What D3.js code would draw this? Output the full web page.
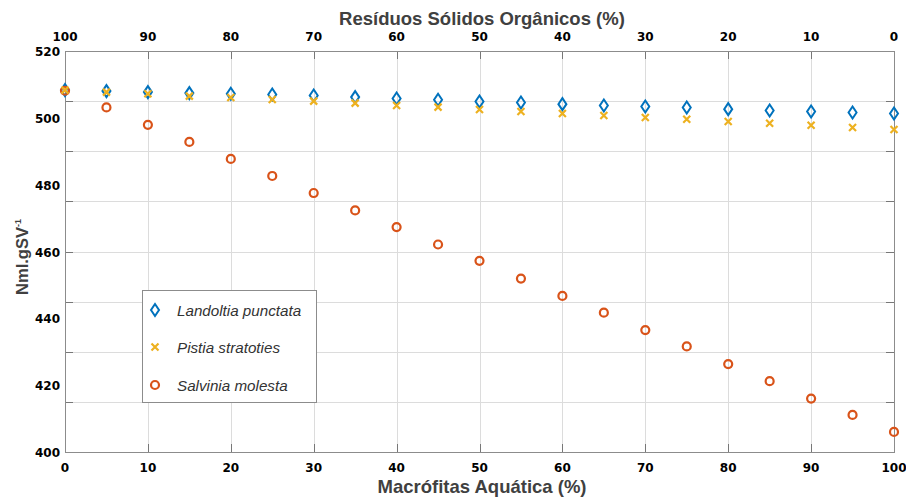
<!DOCTYPE html>
<html>
<head>
<meta charset="utf-8">
<script src="https://cdn.jsdelivr.net/npm/d3@7"></script>
<style>
  body { margin: 0; background: #fff; }
  svg { display: block; }
</style>
</head>
<body>
<script>
// dados
var macrofitas = [0, 5, 10, 15, 20, 25, 30, 35, 40, 45, 50, 55, 60, 65, 70, 75, 80, 85, 90, 95, 100];
var landoltia = [508.3, 508.0, 507.7, 507.4, 507.2, 507.0, 506.7, 506.2, 505.8, 505.4, 504.9,
                 504.6, 504.1, 503.7, 503.4, 503.1, 502.6, 502.2, 501.9, 501.6, 501.3];
var pistia = [508.3, 507.7, 507.2, 506.5, 506.1, 505.5, 505.0, 504.4, 503.7, 503.2, 502.5,
              501.9, 501.3, 500.7, 500.1, 499.6, 498.9, 498.4, 497.8, 497.1, 496.5];
var salvinia = [508.1, 503.1, 497.9, 492.8, 487.7, 482.6, 477.5, 472.3, 467.3, 462.1, 457.2,
                451.9, 446.7, 441.7, 436.5, 431.6, 426.3, 421.2, 416.0, 411.1, 406.0];
var yTicks = [400, 420, 440, 460, 480, 500, 520];
var xTicks = [0, 10, 20, 30, 40, 50, 60, 70, 80, 90, 100];
var yGrid = [415, 430, 445, 460, 475, 490, 505];
var legendNames = ["Landoltia punctata", "Pistia stratoties", "Salvinia molesta"];

var W = 906, H = 497,
    pLeft = 65, pRight = 894, pTop = 51, pBottom = 452;

var svg = d3.select("body").append("svg").attr("width", W).attr("height", H);

var x = d3.scaleLinear().domain([0, 100]).range([pLeft, pRight]);
var xTop = d3.scaleLinear().domain([100, 0]).range([pLeft, pRight]);
var y = d3.scaleLinear().domain([400, 520]).range([pBottom, pTop]);

// grade
var grid = svg.append("g").attr("stroke", "#dcdcdc").attr("stroke-width", 1);
xTicks.slice(1, -1).forEach(function(t){
  grid.append("line").attr("x1", Math.round(x(t)) + 0.5).attr("x2", Math.round(x(t)) + 0.5)
      .attr("y1", pTop).attr("y2", pBottom);
});
yGrid.forEach(function(t){
  grid.append("line").attr("y1", Math.round(y(t)) + 0.5).attr("y2", Math.round(y(t)) + 0.5)
      .attr("x1", pLeft).attr("x2", pRight);
});

// marcas pequenas
var tk = svg.append("g").attr("stroke", "#777").attr("stroke-width", 1);
xTicks.slice(1, -1).forEach(function(t){
  var px = Math.round(x(t)) + 0.5;
  tk.append("line").attr("x1", px).attr("x2", px).attr("y1", pBottom).attr("y2", pBottom - 8);
  tk.append("line").attr("x1", px).attr("x2", px).attr("y1", pTop).attr("y2", pTop + 8);
});
yGrid.forEach(function(t){
  var py = Math.round(y(t)) + 0.5;
  tk.append("line").attr("y1", py).attr("y2", py).attr("x1", pLeft).attr("x2", pLeft + 8);
  tk.append("line").attr("y1", py).attr("y2", py).attr("x1", pRight).attr("x2", pRight - 8);
});

// caixa dos eixos
svg.append("rect").attr("x", pLeft + 0.5).attr("y", pTop + 0.5)
   .attr("width", pRight - pLeft).attr("height", pBottom - pTop)
   .attr("fill", "none").attr("stroke", "#8c8c8c").attr("stroke-width", 1);

var tickFont = "'DejaVu Sans', sans-serif";

svg.append("g").selectAll("text").data(xTicks).join("text")
   .attr("x", function(d){ return x(d); }).attr("y", 472)
   .attr("text-anchor", "middle").attr("font-family", tickFont)
   .attr("font-weight", "bold").attr("font-size", 12).attr("fill", "#000")
   .text(function(d){ return d; });

svg.append("g").selectAll("text").data(xTicks).join("text")
   .attr("x", function(d){ return xTop(d); }).attr("y", 41)
   .attr("text-anchor", "middle").attr("font-family", tickFont)
   .attr("font-weight", "bold").attr("font-size", 12).attr("fill", "#000")
   .text(function(d){ return d; });

svg.append("g").selectAll("text").data(yTicks).join("text")
   .attr("x", 60).attr("y", function(d){ return y(d) + 5; })
   .attr("text-anchor", "end").attr("font-family", tickFont)
   .attr("font-weight", "bold").attr("font-size", 12).attr("fill", "#000")
   .text(function(d){ return d; });

// títulos
var titleFont = "'Liberation Sans', Arial, sans-serif";
svg.append("text").attr("x", 482).attr("y", 25).attr("text-anchor", "middle")
   .attr("font-family", titleFont).attr("font-weight", "bold").attr("font-size", 18.5)
   .attr("fill", "#404040").text("Resíduos Sólidos Orgânicos (%)");
svg.append("text").attr("x", 482).attr("y", 493).attr("text-anchor", "middle")
   .attr("font-family", titleFont).attr("font-weight", "bold").attr("font-size", 18.5)
   .attr("fill", "#404040").text("Macrófitas Aquática (%)");
var yl = svg.append("text").attr("transform", "translate(28,257) rotate(-90)")
   .attr("text-anchor", "middle").attr("font-family", titleFont)
   .attr("font-weight", "bold").attr("font-size", 16.5).attr("fill", "#404040");
yl.append("tspan").text("Nml.gSV");
yl.append("tspan").attr("font-size", 9).attr("dy", -7).text("-1");

// marcadores
var blue = "#0072BD", orange = "#D95319", yellow = "#EDB120";

function diamond(g, cx, cy){
  g.append("path").attr("d", "M" + cx + "," + (cy - 6) + "L" + (cx + 4) + "," + cy +
        "L" + cx + "," + (cy + 6) + "L" + (cx - 4) + "," + cy + "Z")
   .attr("fill", "none").attr("stroke", blue).attr("stroke-width", 2);
}
function cross(g, cx, cy){
  g.append("path").attr("d", "M" + (cx - 3.5) + "," + (cy - 3.5) + "L" + (cx + 3.5) + "," + (cy + 3.5) +
        "M" + (cx - 3.5) + "," + (cy + 3.5) + "L" + (cx + 3.5) + "," + (cy - 3.5))
   .attr("stroke", yellow).attr("stroke-width", 2.2);
}
function circ(g, cx, cy){
  g.append("circle").attr("cx", cx).attr("cy", cy).attr("r", 4)
   .attr("fill", "none").attr("stroke", orange).attr("stroke-width", 2.2);
}

var marks = svg.append("g");
macrofitas.forEach(function(m, i){ diamond(marks, x(m), y(landoltia[i])); });
macrofitas.forEach(function(m, i){ circ(marks, x(m), y(salvinia[i])); });
macrofitas.forEach(function(m, i){ cross(marks, x(m), y(pistia[i])); });

// legenda
var lg = svg.append("g");
lg.append("rect").attr("x", 142.5).attr("y", 290.5).attr("width", 174).attr("height", 112)
  .attr("fill", "#fff").attr("stroke", "#8c8c8c");
var rows = [310, 347, 385];
diamond(lg, 155, rows[0]);
cross(lg, 155, rows[1]);
circ(lg, 155, rows[2]);
lg.selectAll("text.l").data(legendNames).join("text").attr("class", "l")
  .attr("x", 177).attr("y", function(d, i){ return rows[i] + 5.5; })
  .attr("font-family", titleFont).attr("font-style", "italic").attr("font-size", 15.2)
  .attr("fill", "#333").text(function(d){ return d; });
</script>
</body>
</html>
